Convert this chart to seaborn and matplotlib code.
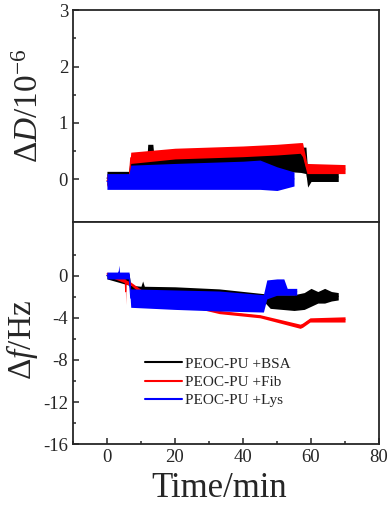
import numpy as np
import pandas as pd
import matplotlib
matplotlib.use("Agg")
import matplotlib.pyplot as plt
import seaborn as sns
from matplotlib.ticker import FixedLocator, MultipleLocator

# Series names and colours
series = ["PEOC-PU +BSA", "PEOC-PU +Fib", "PEOC-PU +Lys"]
colors = ["black", "red", "blue"]

# Dissipation shift (ΔD / 1e-6): time (min), lower and upper edge of the noisy trace
bsa_d_t = [0, 6.5, 7.0, 11.8, 12.0, 13.5, 13.8, 20, 30, 40, 46, 50, 57, 58.5, 59.0, 60, 68]
bsa_d_lo = [-0.1, -0.1, 0.15, 0.2, 0.2, 0.2, 0.2, 0.2, 0.22, 0.25, 0.2, 0.15, 0.12, 0.1, -0.14, -0.04, -0.04]
bsa_d_hi = [0.14, 0.14, 0.4, 0.42, 0.62, 0.62, 0.42, 0.45, 0.47, 0.5, 0.52, 0.55, 0.57, 0.57, 0.15, 0.13, 0.12]

fib_d_t = [0, 6.5, 7.0, 20, 30, 40, 50, 56.8, 57.5, 58.8, 70]
fib_d_lo = [-0.12, -0.12, 0.28, 0.36, 0.38, 0.4, 0.43, 0.46, 0.4, 0.1, 0.1]
fib_d_hi = [0.08, 0.08, 0.48, 0.55, 0.57, 0.59, 0.62, 0.65, 0.65, 0.28, 0.26]

lys_d_t = [0, 6.5, 7.0, 20, 30, 40, 45, 50, 55]
lys_d_lo = [-0.18, -0.18, -0.18, -0.18, -0.18, -0.18, -0.18, -0.2, -0.12]
lys_d_hi = [0.1, 0.1, 0.25, 0.28, 0.3, 0.32, 0.34, 0.22, 0.13]

# Frequency shift (Δf / Hz)
bsa_f_t = [0, 6.5, 7.0, 10, 10.5, 11, 20, 33, 46, 48, 55, 58, 60, 62, 64, 66, 68]
bsa_f_lo = [-0.3, -0.9, -1.6, -1.7, -1.7, -1.7, -1.8, -2.0, -2.4, -3.1, -3.3, -3.2, -2.9, -2.6, -2.6, -2.4, -2.3]
bsa_f_hi = [0.3, 0.2, -0.9, -1.0, -0.5, -1.0, -1.05, -1.25, -1.7, -1.8, -1.8, -1.6, -1.2, -1.5, -1.2, -1.5, -1.6]

fib_f_t = [0, 5.4, 5.5, 5.6, 7.0, 10, 11, 20, 33, 45, 56.8, 57.5, 59.7, 70]
fib_f_lo = [0.0, -0.7, -2.75, -0.8, -0.9, -1.7, -1.8, -2.6, -3.6, -4.0, -5.0, -4.9, -4.4, -4.4]
fib_f_hi = [0.35, -0.3, -0.3, -0.4, -0.6, -1.3, -1.5, -2.3, -3.3, -3.7, -4.6, -4.5, -4.0, -3.9]

lys_f_t = [0, 3.3, 3.5, 3.7, 6.5, 7.0, 20, 33, 46, 47, 50, 52, 53, 55.8]
lys_f_lo = [-0.3, -0.3, -0.3, -0.3, -0.3, -3.0, -3.2, -3.35, -3.45, -2.2, -1.85, -1.85, -1.85, -1.85]
lys_f_hi = [0.35, 0.35, 1.0, 0.35, 0.35, -1.25, -1.35, -1.45, -1.8, -0.4, -0.3, -0.3, -1.2, -1.2]


def to_long(parts):
    """Stack lower/upper edges of each series into one long table."""
    rows = []
    for name, t, lo, hi in parts:
        for ti, a, b in zip(t, lo, hi):
            rows.append((name, ti, a))
            rows.append((name, ti, b))
    return pd.DataFrame(rows, columns=["series", "time", "value"])


d_df = to_long([(series[0], bsa_d_t, bsa_d_lo, bsa_d_hi),
                (series[1], fib_d_t, fib_d_lo, fib_d_hi),
                (series[2], lys_d_t, lys_d_lo, lys_d_hi)])
f_df = to_long([(series[0], bsa_f_t, bsa_f_lo, bsa_f_hi),
                (series[1], fib_f_t, fib_f_lo, fib_f_hi),
                (series[2], lys_f_t, lys_f_lo, lys_f_hi)])

sns.set_style("ticks")
plt.rcParams["font.family"] = ["Liberation Serif", "DejaVu Serif"]
plt.rcParams["mathtext.fontset"] = "custom"
plt.rcParams["mathtext.rm"] = "Liberation Serif"
plt.rcParams["mathtext.it"] = "Liberation Serif:italic"
plt.rcParams["axes.unicode_minus"] = False

fig = plt.figure(figsize=(3.92, 5.07), dpi=100)
ax1 = fig.add_axes([0.186, 0.562, 0.781, 0.418])
ax2 = fig.add_axes([0.186, 0.124, 0.781, 0.438], sharex=ax1)

band = lambda v: (v.min(), v.max())
palette = dict(zip(series, colors))

sns.lineplot(data=d_df, x="time", y="value", hue="series", hue_order=series,
             palette=palette, errorbar=band, err_kws={"alpha": 1, "linewidth": 0},
             linewidth=0.8, ax=ax1, legend=False)
sns.lineplot(data=f_df, x="time", y="value", hue="series", hue_order=series,
             palette=palette, errorbar=band, err_kws={"alpha": 1, "linewidth": 0},
             linewidth=0.8, ax=ax2)

# stack each trace (band + centre line) so later series cover earlier ones
for ax in (ax1, ax2):
    for i, (ln, coll) in enumerate(zip(ax.lines[:3], ax.collections[:3])):
        ln.set_zorder(2 + i)
        coll.set_zorder(2 + i)

ax1.set_ylim(-0.76, 3)
ax1.yaxis.set_major_locator(MultipleLocator(1))
ax1.yaxis.set_minor_locator(FixedLocator([0.5, 1.5, 2.5]))
ax2.set_ylim(-16, 5.1)
ax2.yaxis.set_major_locator(FixedLocator([0, -4, -8, -12, -16]))
ax2.yaxis.set_minor_locator(FixedLocator([2, -2, -6, -10, -14]))
ax2.set_xlim(-10, 80)
ax2.xaxis.set_major_locator(MultipleLocator(20))
ax2.xaxis.set_minor_locator(MultipleLocator(10))

for ax in (ax1, ax2):
    for s in ax.spines.values():
        s.set_linewidth(1.3)
    ax.tick_params(which="both", direction="in", width=1.1, labelsize=13.5,
                   top=False, right=False)
    ax.tick_params(which="major", length=4)
    ax.tick_params(which="minor", length=2.5)
    ax.set_xlabel("")

ax1.tick_params(axis="x", which="both", bottom=False, labelbottom=False)

ax1.set_ylabel(r"Δ$\mathit{D}$/10$^{-6}$", fontsize=24)
ax1.yaxis.set_label_coords(-0.09, 0.55)
ax2.set_ylabel(r"Δ$\mathit{f}$/Hz", fontsize=24)
ax2.yaxis.set_label_coords(-0.108, 0.47)
ax2.set_xlabel("Time/min", fontsize=25)
ax2.xaxis.set_label_coords(0.477, -0.125)

sns.move_legend(ax2, "center left", bbox_to_anchor=(0.236, 0.279), title=None,
                frameon=False, fontsize=11, handlelength=2.4, handletextpad=0.2,
                labelspacing=0.3, borderpad=0, borderaxespad=0)
for line in ax2.get_legend().get_lines():
    line.set_linewidth(1.5)

fig.savefig("out.png", dpi=100)
